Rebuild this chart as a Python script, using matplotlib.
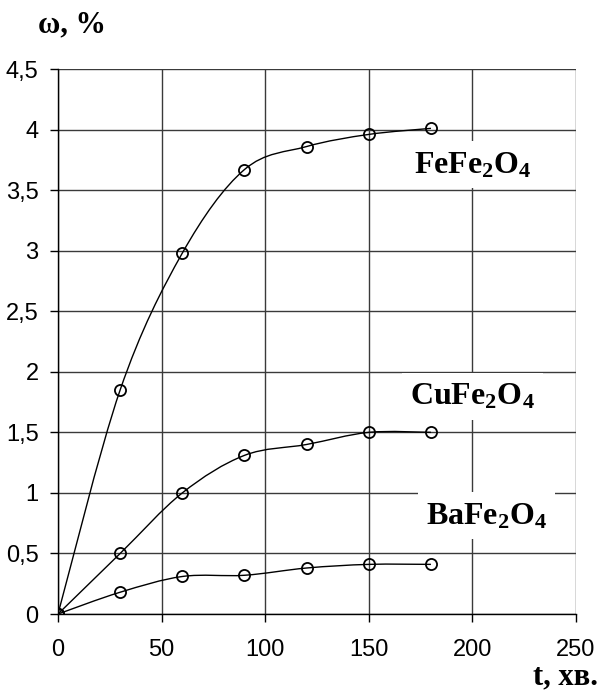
import numpy as np
import matplotlib
matplotlib.use("Agg")
import matplotlib.pyplot as plt
from matplotlib.path import Path
from matplotlib.patches import PathPatch
from matplotlib.ticker import FuncFormatter

plt.rcParams['mathtext.fontset'] = 'custom'
plt.rcParams['mathtext.rm'] = 'Liberation Serif'
plt.rcParams['mathtext.bf'] = 'Liberation Serif:bold'

# Sampling times, min
t = [0, 30, 60, 90, 120, 150, 180]

# Mass gain, %
fe_fe2o4 = [0.0, 1.85, 2.98, 3.67, 3.86, 3.96, 4.01]
cu_fe2o4 = [0.0, 0.50, 1.00, 1.31, 1.40, 1.50, 1.50]
ba_fe2o4 = [0.0, 0.18, 0.31, 0.32, 0.38, 0.41, 0.41]

series = [
    (fe_fe2o4, r'$\mathbf{FeFe_2O_4}$', (200, 3.71)),
    (cu_fe2o4, r'$\mathbf{CuFe_2O_4}$', (200, 1.80)),
    (ba_fe2o4, r'$\mathbf{BaFe_2O_4}$', (207, 0.81)),
]

x_ticks = [0, 50, 100, 150, 200, 250]
y_ticks = [0, 0.5, 1, 1.5, 2, 2.5, 3, 3.5, 4, 4.5]


def smooth_path(xs, ys):
    """Cubic Bezier path through the points (Catmull-Rom style smoothing)."""
    pts = np.column_stack([xs, ys]).astype(float)
    n = len(pts)
    verts = [pts[0]]
    codes = [Path.MOVETO]
    for i in range(n - 1):
        p0 = pts[i - 1] if i > 0 else pts[i]
        p1 = pts[i]
        p2 = pts[i + 1]
        p3 = pts[i + 2] if i + 2 < n else pts[i + 1]
        c1 = p1 + (p2 - p0) / 6.0
        c2 = p2 - (p3 - p1) / 6.0
        verts += [c1, c2, p2]
        codes += [Path.CURVE4] * 3
    return Path(verts, codes)


fig = plt.figure(figsize=(6.04, 6.95), dpi=100)
ax = fig.add_axes([0.096, 0.1165, 0.8576, 0.7842])

for ys, label, pos in series:
    ax.add_patch(PathPatch(smooth_path(t, ys), facecolor='none',
                           edgecolor='black', lw=1.0, zorder=3))
    ax.plot(t, ys, linestyle='none', marker='o', markersize=8,
            markerfacecolor='none', markeredgecolor='black',
            markeredgewidth=1.3, zorder=4)
    ax.text(pos[0], pos[1], label, ha='center', va='center', fontsize=23,
            color='black', zorder=5,
            bbox=dict(boxstyle='square,pad=0.25', facecolor='white',
                      edgecolor='none'))

ax.set_xlim(0, 250)
ax.set_ylim(0, 4.5)
ax.set_xticks(x_ticks)
ax.set_yticks(y_ticks)
ax.yaxis.set_major_formatter(FuncFormatter(
    lambda v, p: ('%g' % v).replace('.', ',')))
ax.grid(True, color='#3a3a3a', lw=1.0, zorder=1)
ax.set_axisbelow(True)
for side in ['top', 'right']:
    ax.spines[side].set_visible(False)
for side in ['left', 'bottom']:
    ax.spines[side].set_linewidth(1.0)
ax.tick_params(direction='out', length=6, width=1.0, color='black',
               labelsize=17, pad=8)
ax.tick_params(axis='x', pad=12)
for lbl in ax.get_xticklabels() + ax.get_yticklabels():
    lbl.set_fontfamily('Liberation Sans')

fig.text(38 / 604, 1 - 25 / 695, 'ω, %', ha='left', va='center',
         fontsize=22, fontweight='bold', family='Liberation Serif')
fig.text(598 / 604, 1 - 684 / 695, 't, хв.', ha='right', va='baseline',
         fontsize=22, fontweight='bold', family='Liberation Serif')

fig.savefig('out.png', dpi=100, facecolor='white')
